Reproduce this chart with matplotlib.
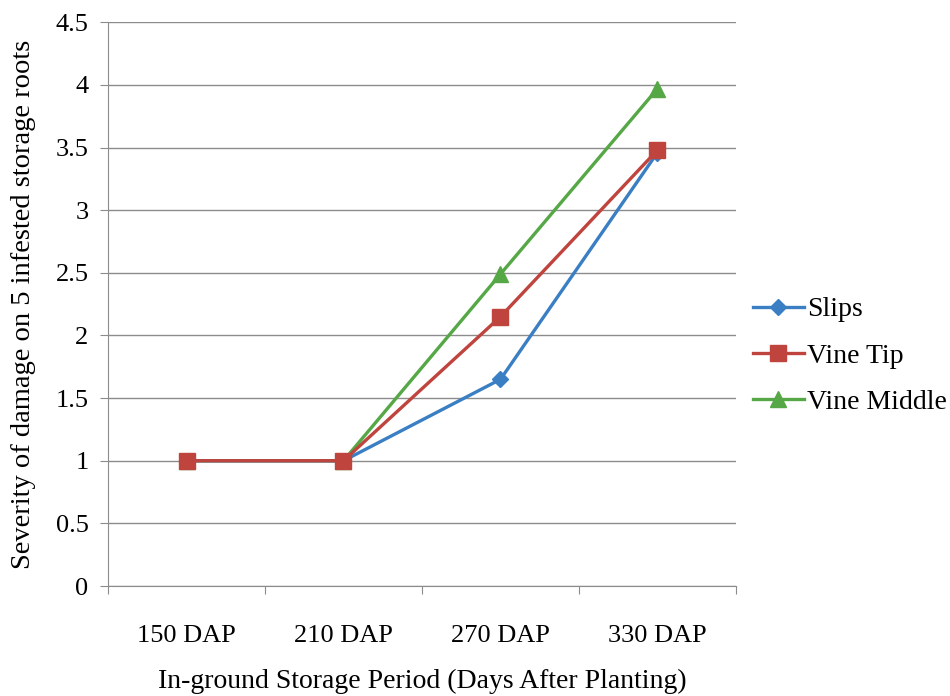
import numpy as np
import matplotlib.pyplot as plt

plt.rcParams['font.family'] = ['Liberation Serif', 'DejaVu Serif']

periods = ['150 DAP', '210 DAP', '270 DAP', '330 DAP']
slips = [1.0, 1.0, 1.65, 3.46]
vine_tip = [1.0, 1.0, 2.15, 3.48]
vine_middle = [1.0, 1.0, 2.49, 3.97]

fig = plt.figure(figsize=(9.5, 6.96), dpi=100)
ax = fig.add_axes([0.1137, 0.158, 0.661, 0.810])

x = np.arange(1, len(periods) + 1)
ax.plot(x, slips, color='#3a7fc4', lw=2.4, marker='D', ms=8.5, label='Slips', zorder=3)
ax.plot(x, vine_tip, color='#c0443e', lw=2.4, marker='s', ms=11, label='Vine Tip', zorder=4)
ax.plot(x, vine_middle, color='#55a845', lw=2.4, marker='^', ms=11.5, label='Vine Middle', zorder=2)

ax.set_xlim(0.5, len(periods) + 0.5)
ax.set_ylim(0, 4.5)
ax.set_yticks(np.arange(0, 4.51, 0.5))
ax.set_yticklabels(['0', '0.5', '1', '1.5', '2', '2.5', '3', '3.5', '4', '4.5'])
ax.yaxis.grid(True, color='#8c8c8c', lw=1.0)
ax.set_axisbelow(True)

# category labels between boundary ticks
ax.set_xticks(np.arange(0.5, len(periods) + 1, 1.0))
ax.set_xticklabels([])
ax.set_xticks(x, minor=True)
ax.set_xticklabels(periods, minor=True, fontsize=19)
ax.tick_params(axis='x', which='minor', length=0, pad=28)
ax.tick_params(axis='x', which='major', length=6, color='#8c8c8c')
ax.tick_params(axis='y', length=6, color='#8c8c8c', labelsize=19, pad=8)

for side in ['top', 'right']:
    ax.spines[side].set_visible(False)
for side in ['left', 'bottom']:
    ax.spines[side].set_color('#8c8c8c')

ax.set_xlabel('In-ground Storage Period (Days After Planting)', fontsize=20, labelpad=16)
ax.set_ylabel('Severity of damage on 5 infested storage roots', fontsize=20.5, labelpad=14)

ax.legend(loc='center left', bbox_to_anchor=(1.0, 0.408), frameon=False,
          fontsize=20, handlelength=1.85, handletextpad=0.1, labelspacing=0.75,
          borderaxespad=0.2)

fig.savefig('out.png', dpi=100)
